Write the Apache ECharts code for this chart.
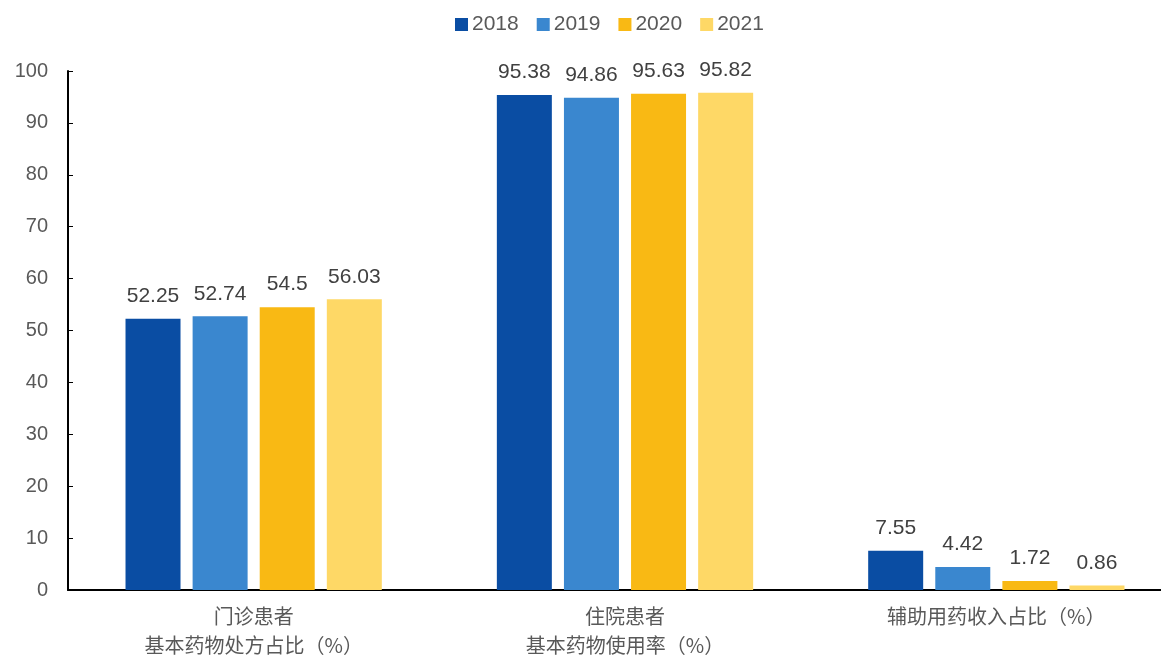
<!DOCTYPE html>
<html>
<head>
<meta charset="utf-8">
<script src="https://cdn.jsdelivr.net/npm/echarts@6/dist/echarts.min.js"></script>
<style>html,body{margin:0;padding:0;background:#fff}#c{width:1161px;height:655px}</style>
</head>
<body>
<div id="c"></div>
<script>
var categories = ['门诊患者\n基本药物处方占比（%）', '住院患者\n基本药物使用率（%）', '辅助用药收入占比（%）'];
var years = ['2018', '2019', '2020', '2021'];
var v2018 = [52.25, 95.38, 7.55];
var v2019 = [52.74, 94.86, 4.42];
var v2020 = [54.5, 95.63, 1.72];
var v2021 = [56.03, 95.82, 0.86];
var yTicks = [0, 10, 20, 30, 40, 50, 60, 70, 80, 90, 100];
var colors = ['#0A4DA3', '#3A87CF', '#F9B914', '#FED866'];
var values = [v2018, v2019, v2020, v2021];

var chart = echarts.init(document.getElementById('c'));
chart.setOption({
  animation: false,
  color: colors,
  legend: {
    top: 9,
    left: 450,
    itemWidth: 13,
    itemHeight: 13,
    itemGap: 18,
    icon: 'rect',
    textStyle: {fontFamily: 'Liberation Sans', fontSize: 21, color: '#595959', padding: [0, 0, 0, -1]},
    data: years
  },
  grid: {left: 68, top: 71, width: 1114, height: 519, containLabel: false, outerBoundsMode: 'none'},
  xAxis: {
    type: 'category',
    data: categories,
    axisLine: {lineStyle: {color: '#000', width: 2}},
    axisTick: {inside: true, length: 5, lineStyle: {color: '#000', width: 1}},
    axisLabel: {fontFamily: 'Noto Sans CJK SC', fontSize: 20, color: '#595959', lineHeight: 29, margin: 12, interval: 0}
  },
  yAxis: {
    type: 'value',
    min: 0, max: 100, interval: 10,
    splitLine: {show: false},
    axisLine: {show: true, lineStyle: {color: '#000', width: 2}},
    axisTick: {show: true, inside: true, length: 5, lineStyle: {color: '#000'}},
    axisLabel: {fontFamily: 'Liberation Sans', fontSize: 20, color: '#595959', margin: 20,
      formatter: function (v) { return yTicks.indexOf(v) >= 0 ? String(v) : ''; }}
  },
  series: years.map(function (y, i) {
    return {
      name: y,
      type: 'bar',
      data: values[i],
      barWidth: 55,
      barGap: '22%',
      itemStyle: {color: colors[i]},
      label: {show: true, position: 'top', distance: 12, fontFamily: 'Liberation Sans', fontSize: 21, color: '#404040'}
    };
  })
});
</script>
</body>
</html>
